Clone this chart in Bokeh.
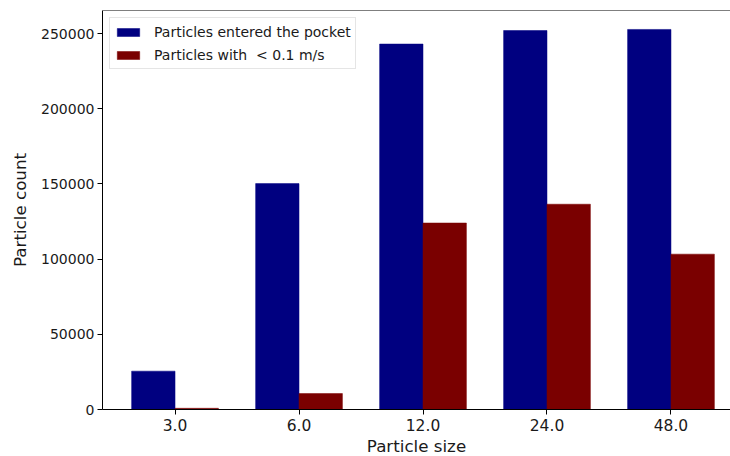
from bokeh.plotting import figure
from bokeh.models import ColumnDataSource, FixedTicker, Range1d, Span, BasicTickFormatter
from bokeh.transform import dodge
from bokeh.embed import file_html
from bokeh.resources import INLINE

# ---- data ----
categories = ["3.0", "6.0", "12.0", "24.0", "48.0"]
entered = [25500, 150200, 243000, 252000, 252700]
slow = [800, 10600, 124000, 136500, 103300]
series_names = ["Particles entered the pocket", "Particles with  < 0.1 m/s"]
y_ticks = [0, 50000, 100000, 150000, 200000, 250000]

xpos = list(range(len(categories)))
src = ColumnDataSource(dict(x=xpos, entered=entered, slow=slow))

FONT = "DejaVu Sans"
BAR_W = 0.35

p = figure(frame_width=628, frame_height=399,
           x_range=Range1d(-0.585, 4.48), y_range=Range1d(0, 265300),
           output_backend="svg", toolbar_location=None,
           min_border_left=102, min_border_right=0, min_border_top=10, min_border_bottom=46)

p.vbar(x=dodge("x", -BAR_W / 2, range=p.x_range), top="entered", width=BAR_W, source=src,
       fill_color="#000080", line_color="#000080", line_width=0.5, legend_label=series_names[0])
p.vbar(x=dodge("x", BAR_W / 2, range=p.x_range), top="slow", width=BAR_W, source=src,
       fill_color="#7a0000", line_color="#7a0000", line_width=0.5, legend_label=series_names[1])

p.xgrid.visible = False
p.ygrid.visible = False
p.outline_line_color = None
p.background_fill_color = "white"
p.border_fill_color = "white"

# top spine
p.add_layout(Span(location=265300, dimension="width", line_color="black", line_width=1))

p.xaxis.ticker = FixedTicker(ticks=xpos)
p.xaxis.major_label_overrides = {i: c for i, c in zip(xpos, categories)}
p.yaxis.ticker = FixedTicker(ticks=y_ticks)
p.yaxis.formatter = BasicTickFormatter(use_scientific=False)

for ax in (p.xaxis, p.yaxis):
    ax.axis_line_color = "black"
    ax.axis_line_width = 1
    ax.major_tick_line_color = "black"
    ax.major_tick_out = 5
    ax.major_tick_in = 0
    ax.minor_tick_line_color = None
    ax.major_label_text_font = FONT
    ax.major_label_text_font_size = "14px"
    ax.major_label_text_color = "#1a1a1a"
    ax.axis_label_text_font = FONT
    ax.axis_label_text_font_size = "16.7px"
    ax.axis_label_text_font_style = "normal"
    ax.axis_label_text_color = "#1a1a1a"

p.xaxis.major_label_text_font_size = "15.5px"
p.xaxis.axis_label = "Particle size"
p.yaxis.axis_label = "Particle count"
p.xaxis.major_label_standoff = 4
p.xaxis.axis_label_standoff = 2
p.yaxis.major_label_standoff = 3
p.yaxis.axis_label_standoff = 8

lg = p.legend[0]
lg.location = "top_left"
lg.margin = 7
lg.padding = 4
lg.spacing = 4
lg.glyph_width = 28
lg.glyph_height = 10
lg.label_height = 19
lg.label_standoff = 12
lg.label_text_font = FONT
lg.label_text_font_size = "14px"
lg.label_text_color = "#1a1a1a"
lg.border_line_color = "#cccccc"
lg.border_line_width = 1
lg.background_fill_color = "white"
lg.background_fill_alpha = 0.8

open("out.html", "w").write(file_html(p, INLINE))
